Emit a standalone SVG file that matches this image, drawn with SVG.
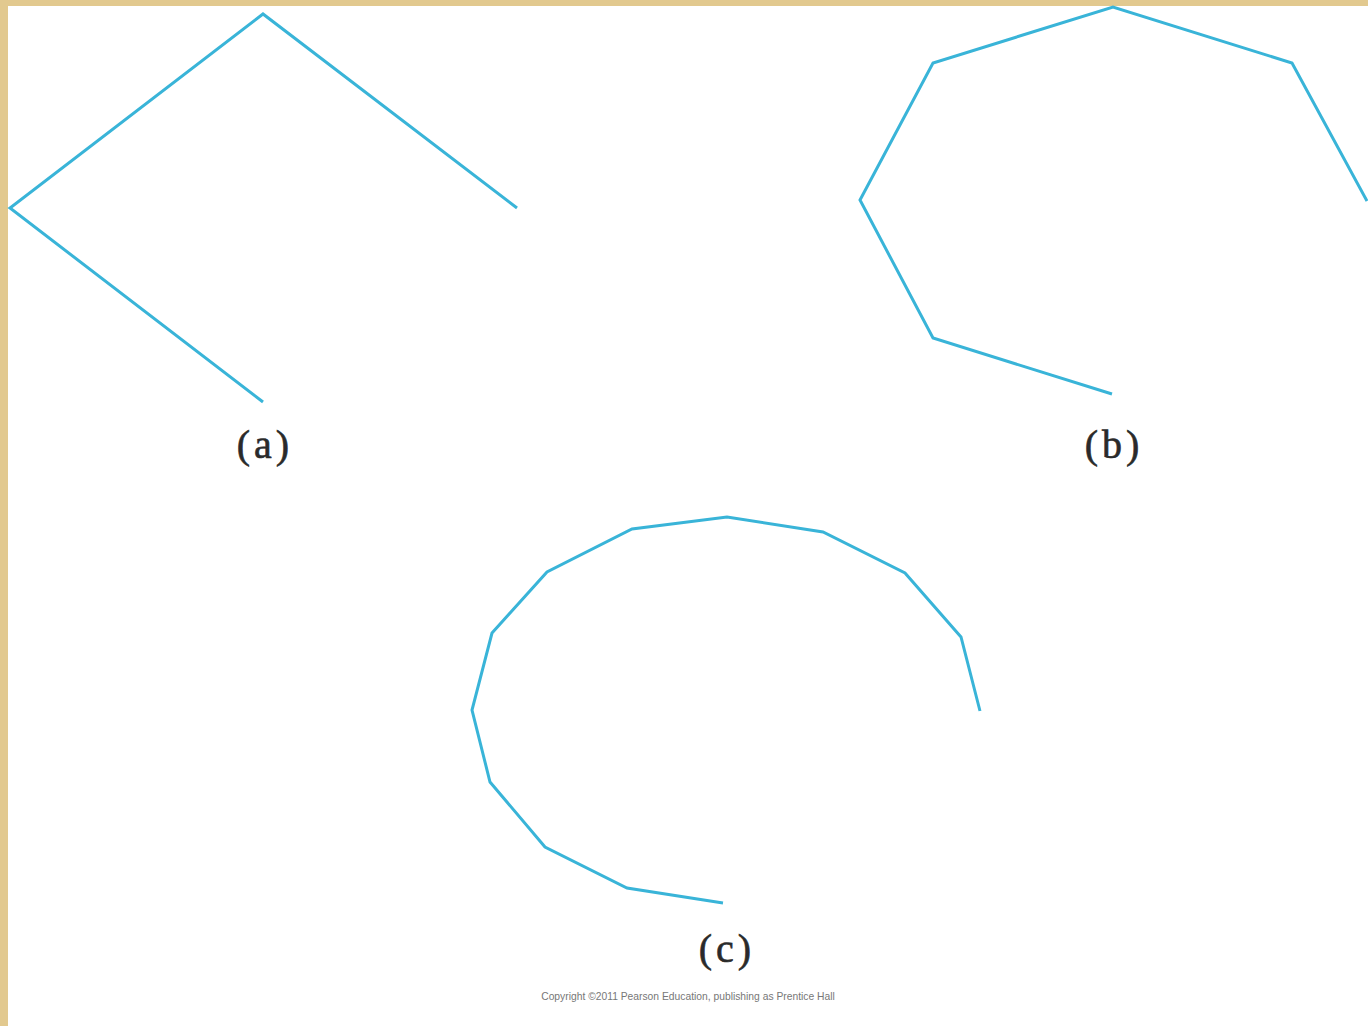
<svg xmlns="http://www.w3.org/2000/svg" width="1368" height="1026" viewBox="0 0 1368 1026">
<style>
.poly{fill:none;stroke:#39b4d8;stroke-width:3;stroke-linejoin:miter}
.lbl{font-family:"Liberation Serif",serif;font-size:40px;fill:#2a2a2a;stroke:#2a2a2a;stroke-width:0.6;text-anchor:middle;letter-spacing:4px}
.copy{font-family:"Liberation Sans",sans-serif;font-size:10.3px;fill:#777;text-anchor:middle}
</style>
<rect width="1368" height="1026" fill="#ffffff"/>
<rect x="0" y="0" width="1368" height="6" fill="#e2c98f"/>
<rect x="0" y="0" width="8" height="1026" fill="#e2c98f"/>
<g id="connectors">
<g id="fig-a"><polyline class="poly" points="263,402 10,208 263,14 517,208"/></g>
<g id="fig-b"><polyline class="poly" points="1112,394 933,338 860,200 933,63 1113,7 1292,63 1367,201"/></g>
<g id="fig-c"><polyline class="poly" points="723,903 627,888 545,847 490,782 472,710 492,633 547,572 632,529 727,517 823,532 905,573 961,637 980,711"/></g>
</g>
<g id="label-a"><text class="lbl" x="265" y="458">(a)</text></g>
<g id="label-b"><text class="lbl" x="1114" y="458">(b)</text></g>
<g id="label-c"><text class="lbl" x="727" y="962">(c)</text></g>
<g id="copyright"><text class="copy" x="688" y="1000">Copyright ©2011 Pearson Education, publishing as Prentice Hall</text></g>
</svg>
